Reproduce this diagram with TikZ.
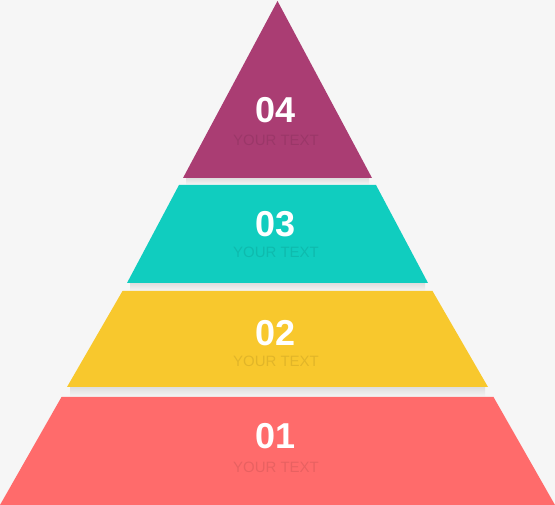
\documentclass[tikz,border=0pt]{standalone}
\usepackage{fontspec}
\setmainfont{Liberation Sans}
\definecolor{bg}{HTML}{F6F6F6}
\definecolor{lpurple}{HTML}{AA3D73}
\definecolor{lteal}{HTML}{10CDBF}
\definecolor{lyellow}{HTML}{F8C82D}
\definecolor{lred}{HTML}{FF6B6B}
\tikzset{
  num/.style={text=white, font=\bfseries\fontsize{36}{36}\selectfont, inner sep=0pt, anchor=center},
  yt/.style={text=black, text opacity=0.09, font=\fontsize{15}{15}\selectfont, inner sep=0pt, anchor=center},
  gapshade/.style={top color=black!13, bottom color=bg}
}
\begin{document}
\begin{tikzpicture}[x=1pt,y=-1pt]
\fill[bg] (0,0) rectangle (555,505);
\useasboundingbox (0,0) rectangle (555,505);
% shadows in gaps
\shade[gapshade] (186,178) rectangle (369,185);
\shade[gapshade] (130,283) rectangle (425,291);
\shade[gapshade] (70,387) rectangle (485,397);
% layers
\fill[lpurple] (277.5,1) -- (372,178) -- (183,178) -- cycle;
\fill[lteal] (179,185) -- (376,185) -- (428,283) -- (127,283) -- cycle;
\fill[lyellow] (122.5,291) -- (432.5,291) -- (488,387) -- (67,387) -- cycle;
\fill[lred] (61.5,397) -- (493.5,397) -- (555,505) -- (0,505) -- cycle;
% texts
\node[num] (n4) at (276,110) {04};
\node[yt] (t4) at (276,140) {YOUR TEXT};
\node[num] (n3) at (276,224.5) {03};
\node[yt] (t3) at (276,252) {YOUR TEXT};
\node[num] (n2) at (276,333) {02};
\node[yt] (t2) at (276,361) {YOUR TEXT};
\node[num] (n1) at (276,436.5) {01};
\node[yt] (t1) at (276,467) {YOUR TEXT};
\end{tikzpicture}
\end{document}
